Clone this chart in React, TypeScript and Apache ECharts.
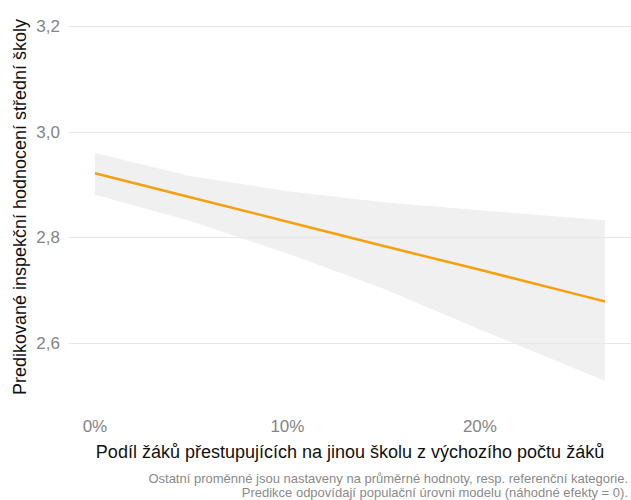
import React, { useEffect, useRef } from "react";
import * as echarts from "echarts";

// Share of pupils transferring (%)
const xs = [0, 5, 10, 15, 20, 25, 26.5];
// Predicted inspection rating (fit)
const fit = [2.922, 2.876, 2.83, 2.784, 2.739, 2.693, 2.679];
// Confidence band
const lower = [2.881, 2.831, 2.77, 2.703, 2.626, 2.551, 2.529];
const upper = [2.96, 2.916, 2.888, 2.867, 2.852, 2.837, 2.833];

const xTicks = [0, 10, 20];
const yTicks = [2.6, 2.8, 3.0, 3.2];

const xTitle = "Podíl žáků přestupujících na jinou školu z výchozího počtu žáků";
const yTitle = "Predikované inspekční hodnocení střední školy";
const caption1 = "Ostatní proměnné jsou nastaveny na průměrné hodnoty, resp. referenční kategorie.";
const caption2 = "Predikce odpovídají populační úrovni modelu (náhodné efekty = 0).";

const FONT = "'Liberation Sans', Arial, sans-serif";

export default function App() {
  const ref = useRef<HTMLDivElement>(null);
  useEffect(() => {
    document.body.style.margin = "0";
    const chart = echarts.init(ref.current!, null, { renderer: "svg" });
    chart.setOption({
      animation: false,
      backgroundColor: "#ffffff",
      textStyle: { fontFamily: FONT },
      grid: { left: 68, right: 0, top: 0, height: 396, containLabel: false },
      xAxis: {
        type: "value",
        min: -1.4,
        max: 27.85,
        axisLine: { show: false },
        axisTick: { show: false },
        splitLine: { show: false },
        axisLabel: {
          customValues: xTicks,
          formatter: (v: number) => `${v}%`,
          color: "#858585",
          fontSize: 17,
          margin: 22,
          fontFamily: FONT,
        },
      },
      yAxis: {
        type: "value",
        min: 2.5,
        max: 3.25,
        axisLine: { show: false },
        axisTick: { show: false },
        splitLine: { show: false },
        axisLabel: {
          customValues: yTicks,
          formatter: (v: number) => v.toFixed(1).replace(".", ","),
          color: "#858585",
          fontSize: 17,
          margin: 8,
          fontFamily: FONT,
        },
      },
      series: [
        {
          type: "line",
          name: "grid",
          data: [],
          silent: true,
          z: 1,
          markLine: {
            silent: true,
            symbol: "none",
            label: { show: false },
            lineStyle: { color: "#e8e8e8", width: 1.2, type: "solid" },
            data: yTicks.map((v) => ({ yAxis: v })),
          },
        },
        {
          type: "custom",
          name: "band",
          silent: true,
          z: 2,
          data: xs.map((x, i) => [x, lower[i], upper[i]]),
          renderItem: (params: any, api: any) => {
            if (params.dataIndex !== 0) return null;
            const pts: number[][] = [];
            for (let i = 0; i < xs.length; i++) pts.push(api.coord([xs[i], upper[i]]));
            for (let i = xs.length - 1; i >= 0; i--) pts.push(api.coord([xs[i], lower[i]]));
            return {
              type: "polygon",
              shape: { points: pts },
              style: { fill: "rgba(153,153,153,0.15)" },
            };
          },
        },
        {
          type: "line",
          name: "fit",
          data: xs.map((x, i) => [x, fit[i]]),
          symbol: "none",
          lineStyle: { color: "#f5a00f", width: 2.5 },
          z: 5,
        },
      ],
      graphic: [
        {
          type: "text",
          x: 350,
          y: 452,
          style: {
            text: xTitle,
            fontSize: 18,
            fontFamily: FONT,
            fill: "#111111",
            align: "center",
            verticalAlign: "middle",
          },
        },
        {
          type: "text",
          x: 20,
          y: 207,
          rotation: Math.PI / 2,
          style: {
            text: yTitle,
            fontSize: 18,
            fontFamily: FONT,
            fill: "#111111",
            align: "center",
            verticalAlign: "middle",
          },
        },
        {
          type: "text",
          x: 628,
          y: 478,
          style: {
            text: caption1,
            fontSize: 13,
            fontFamily: FONT,
            fill: "#8a8a8a",
            align: "right",
            verticalAlign: "middle",
          },
        },
        {
          type: "text",
          x: 628,
          y: 492,
          style: {
            text: caption2,
            fontSize: 13,
            fontFamily: FONT,
            fill: "#8a8a8a",
            align: "right",
            verticalAlign: "middle",
          },
        },
      ],
    });
    return () => chart.dispose();
  }, []);
  return <div ref={ref} style={{ width: 631, height: 500 }} />;
}
